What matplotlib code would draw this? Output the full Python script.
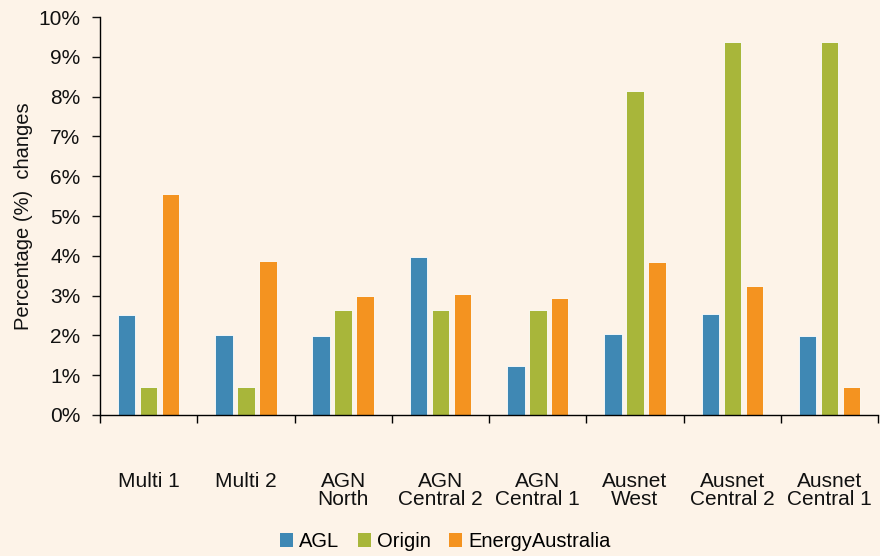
import matplotlib
matplotlib.use("Agg")
import matplotlib.pyplot as plt
import numpy as np
from matplotlib.ticker import FixedLocator, PercentFormatter
from matplotlib.patches import Patch

categories = ["Multi 1", "Multi 2", "AGN\nNorth", "AGN\nCentral 2", "AGN\nCentral 1",
              "Ausnet\nWest", "Ausnet\nCentral 2", "Ausnet\nCentral 1"]
agl = [2.51, 2.01, 1.98, 3.97, 1.23, 2.04, 2.54, 1.98]
origin = [0.70, 0.70, 2.64, 2.64, 2.64, 8.14, 9.37, 9.37]
energy_australia = [5.55, 3.87, 2.99, 3.04, 2.94, 3.84, 3.24, 0.70]
series_names = ["AGL", "Origin", "EnergyAustralia"]
colors = ["#3F88B4", "#A8B63A", "#F49320"]

plt.rcParams['font.family'] = ['Liberation Sans', 'DejaVu Sans']
bg = "#FDF3E8"
txt = "#111111"
fig = plt.figure(figsize=(8.8, 5.56), dpi=100, facecolor=bg)
ax = fig.add_axes([0.1136, 0.2536, 0.8844, 0.7158], facecolor=bg)

x = np.arange(len(categories))
w = 0.18
off = 0.226
for i, (vals, c) in enumerate(zip([agl, origin, energy_australia], colors)):
    ax.bar(x + (i - 1) * off, vals, width=w, color=c, edgecolor="#FFFFFF", linewidth=0.6, zorder=2)

ax.set_xlim(-0.5, len(categories) - 0.5)
ax.set_ylim(0, 10)
ax.yaxis.set_major_locator(FixedLocator(np.arange(0, 11)))
ax.yaxis.set_major_formatter(PercentFormatter(decimals=0))
ax.tick_params(axis='y', direction='out', length=6, width=1, labelsize=15, pad=8, colors=txt)

ax.set_xticks(x)
ax.set_xticklabels(categories, fontsize=15, color=txt, linespacing=0.95)
ax.tick_params(axis='x', which='major', length=0, pad=41)
ax.set_xticks(np.arange(-0.5, len(categories) + 0.5, 1), minor=True)
ax.tick_params(axis='x', which='minor', direction='out', length=6, width=1)

for s in ['top', 'right']:
    ax.spines[s].set_visible(False)
ax.spines['left'].set_linewidth(1)
ax.spines['bottom'].set_linewidth(1)

ax.set_ylabel("Percentage (%)  changes", fontsize=14.5, color=txt, labelpad=4)

handles = [Patch(facecolor=c, edgecolor='none') for c in colors]
fig.legend(handles, series_names, loc='center', bbox_to_anchor=(0.506, 0.026), ncol=3,
           frameon=False, fontsize=14.5, handlelength=0.65, handleheight=0.65,
           handletextpad=0.3, columnspacing=0.9, borderpad=0)

fig.savefig("out.png", dpi=100, facecolor=bg)
